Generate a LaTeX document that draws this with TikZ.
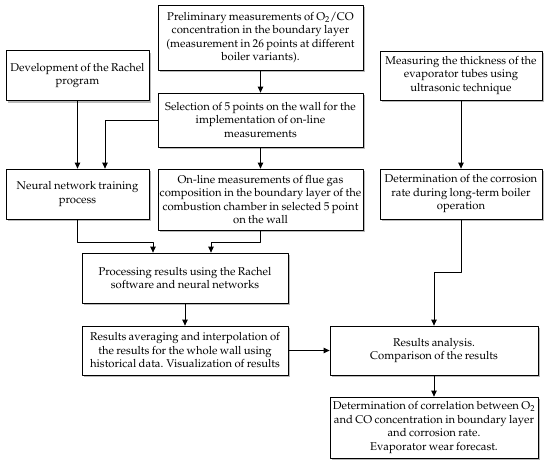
\documentclass[tikz,border=0pt]{standalone}
\usepackage[T1]{fontenc}
\usepackage{mathpazo}
\usetikzlibrary{shadows,arrows.meta}
\newcommand\boxfont{\fontsize{11.3}{13.5}\selectfont\spaceskip=0.21em plus 0.1em minus 0.05em\relax}
\tikzset{
	stepbox/.style={draw=black,fill=white,line width=0.8pt,align=center,inner sep=1pt,
		font=\boxfont,
		drop shadow={shadow xshift=2pt,shadow yshift=-2pt,opacity=0.45,fill=black!60}},
	flow/.style={->,line width=0.8pt}
}
\begin{document}
\begin{tikzpicture}[x=1pt,y=-1pt,line cap=round,line join=round,>={Triangle[length=6pt,width=5.5pt]}]
		\useasboundingbox (0,0) rectangle (550,469);
		% boxes
		\node[stepbox,minimum width=205pt,minimum height=65pt] (prelim) at (260.5,37.5) {Preliminary measurements of O$_2$/CO\\concentration in the boundary layer\\(measurement in 26 points at different\\boiler variants).};
		\node[stepbox,minimum width=143pt,minimum height=50pt] (rachel) at (77.5,75.5) {Development of the Rachel\\program};
		\node[stepbox,minimum width=205pt,minimum height=54pt] (select) at (260.5,120) {Selection of 5 points on the wall for the\\implementation of on-line\\measurements};
		\node[stepbox,minimum width=162pt,minimum height=49pt] (thick) at (461,75.5) {Measuring the thickness of the\\evaporator tubes using\\ultrasonic technique};
		\node[stepbox,minimum width=143pt,minimum height=50pt] (train) at (77.5,194) {Neural network training\\process};
		\node[stepbox,minimum width=205pt,minimum height=61pt] (online) at (260.5,199.5) {On-line measurements of flue gas\\composition in the boundary layer of the\\combustion chamber in selected 5 point\\on the wall};
		\node[stepbox,minimum width=162pt,minimum height=50pt] (rate) at (461,194) {Determination of the corrosion\\rate during long-term boiler\\operation};
		\node[stepbox,minimum width=206pt,minimum height=50pt] (proc) at (185,278) {Processing results using the Rachel\\software and neural networks};
		\node[stepbox,minimum width=206pt,minimum height=49pt] (avg) at (185,350.5) {Results averaging and interpolation of\\the results for the whole wall using\\historical data. Visualization of results};
		\node[stepbox,minimum width=208pt,minimum height=49pt] (anal) at (434,350.5) {Results analysis.\\Comparison of the results};
		\node[stepbox,minimum width=208pt,minimum height=61pt] (corr) at (434,427.5) {Determination of correlation between O$_2$\\and CO concentration in boundary layer\\and corrosion rate.\\Evaporator wear forecast.};
		% connectors
		\draw[flow] (prelim) -- (select);
		\draw[flow] (select) -- (online);
		\draw[flow] (rachel) -- (train);
		\draw[flow] (select.west) -| ([xshift=27.5pt]train.north);
		\draw[flow] (train.south) -- ++(0,23) -| ([xshift=-32pt]proc.north);
		\draw[flow] (online.south) -- ++(0,12) -| ([xshift=26pt]proc.north);
		\draw[flow] (thick) -- (rate);
		\draw[flow] (rate.south) -- ++(0,53) -| (anal.north);
		\draw[flow] (proc) -- (avg);
		\draw[flow] (avg) -- (anal);
		\draw[flow] (anal) -- (corr);
	\end{tikzpicture}
\end{document}
